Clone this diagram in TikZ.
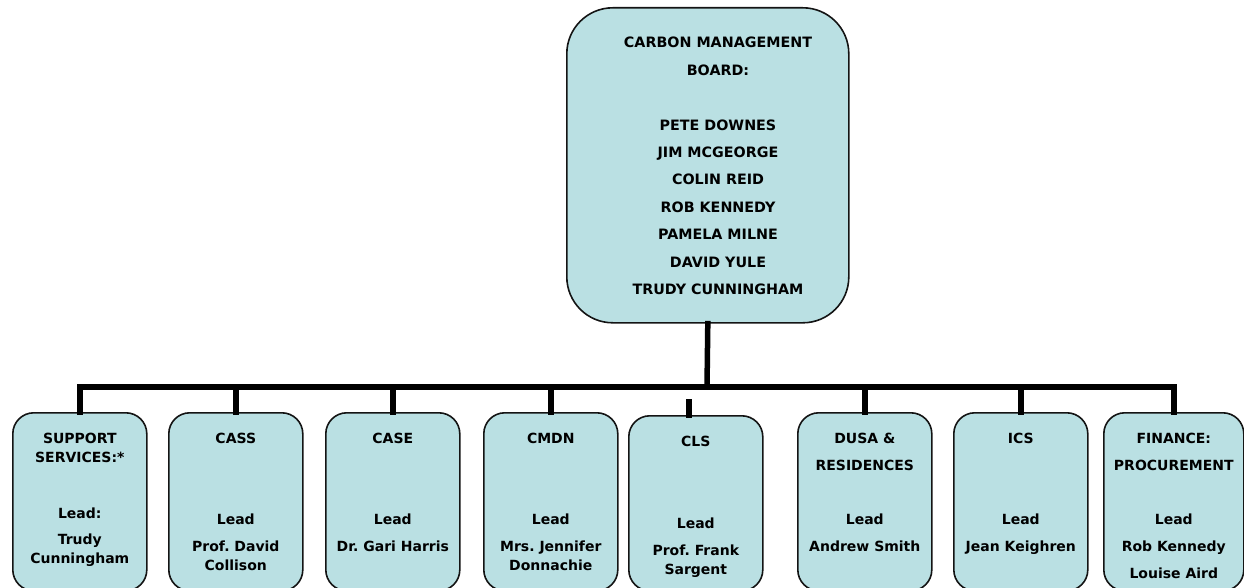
\documentclass[tikz,border=0pt]{standalone}
\usepackage{fontspec}
\setmainfont{DejaVu Sans}
\definecolor{boxfill}{RGB}{186,224,227}
\definecolor{boxline}{RGB}{20,20,20}
\frenchspacing
\begin{document}
\begin{tikzpicture}[x=1pt,y=-1pt,
  box/.style={draw=boxline, line width=1.6pt, fill=boxfill, rounded corners=21pt,
    rectangle, anchor=north west, inner sep=0pt, minimum width=134pt},
  bigbox/.style={box, rounded corners=46pt, minimum width=282pt, minimum height=315pt},
  smallbox/.style={box, minimum height=178pt},
  txt/.style={anchor=north, inner sep=0pt, align=center,
    font=\fontsize{14}{19}\selectfont\bfseries},
  bigtxt/.style={txt, font=\fontsize{14.3}{27.4}\selectfont\bfseries},
  conn/.style={line width=5.5pt, line join=miter, line cap=rect}]
\useasboundingbox (0,0) rectangle (1244,588);

% boxes
\node[bigbox] (top) at (566,7) {};
\node[smallbox] (b1) at (12,412) {};
\node[smallbox] (b2) at (168,412) {};
\node[smallbox] (b3) at (325,412) {};
\node[smallbox] (b4) at (483,412) {};
\node[smallbox, minimum height=175pt] (b5) at (628,415) {};
\node[smallbox] (b6) at (797,412) {};
\node[smallbox] (b7) at (953,412) {};
\node[smallbox, minimum width=140pt] (b8) at (1103,412) {};

% connectors
\coordinate (bar) at (707,387);
\coordinate (clsstub) at (689,402);
\draw[conn] (top.south) -- (bar);
\draw[conn] (b1.north) -- (b1.north |- bar) -- (b8.north |- bar) -- (b8.north);
\foreach \b in {b2,b3,b4,b6,b7} \draw[conn] (\b.north) -- (\b.north |- bar);
\draw[conn] (clsstub) -- (clsstub |- b5.north);

% texts
\node[bigtxt] (toptxt) at (718,37) {CARBON MANAGEMENT\\BOARD:\\[27.4pt]PETE DOWNES\\JIM MCGEORGE\\COLIN REID\\ROB KENNEDY\\PAMELA MILNE\\DAVID YULE\\TRUDY CUNNINGHAM};
\node[txt] (t1) at (b1.north |- 0,433) {SUPPORT\\SERVICES:*\\[37pt]Lead:\\[7pt]Trudy\\Cunningham};
\node[txt] (t2) at (b2.north |- 0,433) {CASS\\[62pt]Lead\\[8pt]Prof. David\\Collison};
\node[txt] (t3) at (b3.north |- 0,433) {CASE\\[62pt]Lead\\[8pt]Dr. Gari Harris};
\node[txt] (t4) at (b4.north |- 0,433) {CMDN\\[62pt]Lead\\[8pt]Mrs. Jennifer\\Donnachie};
\node[txt] (t5) at (b5.north |- 0,436) {CLS\\[63pt]Lead\\[8pt]Prof. Frank\\Sargent};
\node[txt] (t6) at (b6.north |- 0,433) {DUSA \&\\[8pt]RESIDENCES\\[35pt]Lead\\[8pt]Andrew Smith};
\node[txt] (t7) at (b7.north |- 0,433) {ICS\\[62pt]Lead\\[8pt]Jean Keighren};
\node[txt] (t8) at (b8.north |- 0,433) {FINANCE:\\[8pt]PROCUREMENT\\[35pt]Lead\\[8pt]Rob Kennedy\\[8pt]Louise Aird};
\end{tikzpicture}
\end{document}
